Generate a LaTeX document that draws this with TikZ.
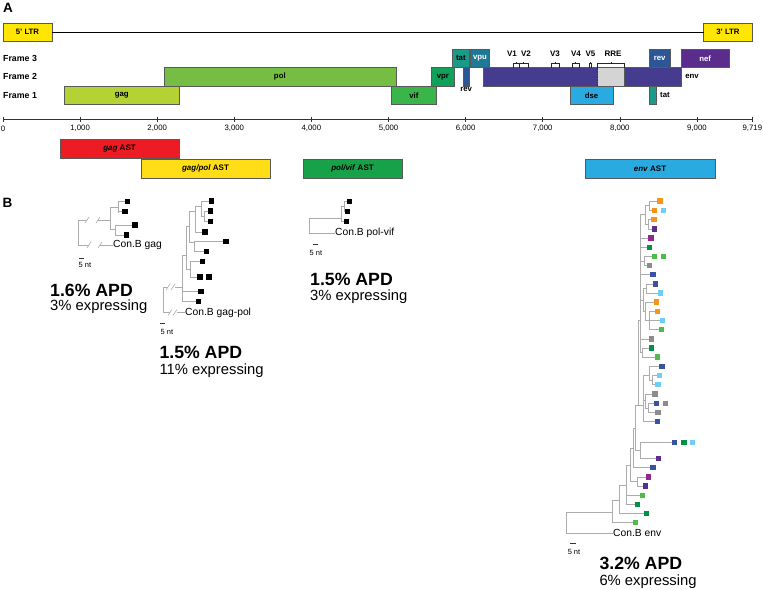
\documentclass[tikz,border=0pt]{standalone}
\usepackage{fontspec}
\setmainfont{Liberation Sans}
\definecolor{ltrc}{HTML}{FFE600}
\definecolor{gagc}{HTML}{B5D234}
\definecolor{polc}{HTML}{76BE43}
\definecolor{vifc}{HTML}{39B54A}
\definecolor{vprc}{HTML}{12A15B}
\definecolor{tatc}{HTML}{1B9A88}
\definecolor{vpuc}{HTML}{1E7896}
\definecolor{revc}{HTML}{2B5796}
\definecolor{envc}{HTML}{463C8F}
\definecolor{nefc}{HTML}{5A2D8C}
\definecolor{dsec}{HTML}{29AAE1}
\definecolor{rrec}{HTML}{D4D4D4}
\definecolor{astred}{HTML}{ED1C24}
\definecolor{astyellow}{HTML}{FFDE17}
\definecolor{astgreen}{HTML}{17A24A}
\definecolor{astblue}{HTML}{29ABE2}
\definecolor{eorange}{HTML}{F7941D}
\definecolor{elblue}{HTML}{6DCFF6}
\definecolor{epurple}{HTML}{5B2D90}
\definecolor{emag}{HTML}{92278F}
\definecolor{edkgreen}{HTML}{009245}
\definecolor{egreen}{HTML}{4DBD4A}
\definecolor{egrey}{HTML}{8C8C8C}
\definecolor{eblue}{HTML}{3953A4}
\tikzset{
  gene/.style={draw=gray!70!black, line width=0.5pt, inner sep=0pt, outer sep=0pt,
    anchor=north west, minimum height=18.5, font=\fontsize{7.8}{9}\selectfont\bfseries},
  ast/.style={gene, minimum height=19.7, font=\fontsize{8}{9}\selectfont\bfseries},
  framelab/.style={anchor=west, inner sep=0pt, font=\fontsize{8.8}{10}\selectfont\bfseries},
  genelab/.style={inner sep=0pt, font=\fontsize{7.8}{9}\selectfont\bfseries},
  vlab/.style={inner sep=0pt, font=\fontsize{8}{9}\selectfont\bfseries},
  bracket/.style={gray!30!black, line width=0.5pt},
  ticklab/.style={inner sep=0pt, font=\fontsize{7.8}{9}\selectfont},
  treeline/.style={gray!65, line width=0.6pt},
  leafsq/.style={inner sep=0pt, outer sep=0pt, minimum size=5.5, fill=black},
  conlab/.style={anchor=west, inner sep=0pt, font=\fontsize{10.3}{12}\selectfont},
  ntlab/.style={inner sep=0pt, font=\fontsize{7.5}{9}\selectfont},
  apd/.style={anchor=base west, inner sep=0pt, font=\fontsize{17.7}{20}\selectfont\bfseries},
  expr/.style={anchor=base west, inner sep=0pt, font=\fontsize{14.8}{17}\selectfont},
  panel/.style={inner sep=0pt, font=\fontsize{13.5}{15}\selectfont\bfseries}
}
% genome position (nt) to x
\newcommand{\nt}[1]{3+0.0771*#1}
% name, start, end, top, fill, label
\newcommand{\gene}[6]{\node[gene, fill=#5, minimum width={0.0771*(#3-#2)}] (#1) at ({\nt{#2}},#4) {#6};}
\begin{document}
\begin{tikzpicture}[x=1pt, y=-1pt]
    \useasboundingbox (0,0) rectangle (763,589);
    \node[panel] (pa) at (8,7.5) {A};
    \node[panel] (pb) at (7.5,202.5) {B};
    % LTRs
    \gene{ltr5}{1}{634}{23}{ltrc}{5' LTR}
    \gene{ltr3}{9086}{9719}{23}{ltrc}{3' LTR}
    \draw[line width=0.8pt] (ltr5.east) -- (ltr3.east -| ltr3.west);
    \node[framelab] (f3) at (3,58.3) {Frame 3};
    \node[framelab] (f2) at (3,76.8) {Frame 2};
    \node[framelab] (f1) at (3,95.3) {Frame 1};
    % frame 1 = 86, frame 2 = 67.5, frame 3 = 49
    \gene{gag}{790}{2292}{86}{gagc}{gag}
    \gene{pol}{2085}{5096}{67.5}{polc}{pol}
    \gene{vif}{5041}{5619}{86}{vifc}{vif}
    \gene{vpr}{5559}{5850}{67.5}{vprc}{vpr}
    \gene{tat1}{5831}{6045}{49}{tatc}{tat}
    \gene{rev1}{5970}{6045}{67.5}{revc}{}
    \gene{vpu}{6062}{6310}{49}{vpuc}{\color{white}vpu}
    \gene{env}{6225}{8795}{67.5}{envc}{}
    \gene{rre}{7710}{8061}{67.5}{rrec}{}
    \draw[densely dotted, gray!40!black, line width=0.6pt] (rre.north west) -- (rre.south west);
    \gene{dse}{7354}{7912}{86}{dsec}{dse}
    \gene{tat2}{8379}{8469}{86}{tatc}{}
    \gene{rev2}{8379}{8653}{49}{revc}{\color{white}rev}
    \gene{nef}{8797}{9417}{49}{nefc}{\color{white}nef}
    \node[genelab, anchor=north] (revlab) at ([yshift=-1.5pt]rev1.south) {rev};
    \node[genelab, anchor=west] (envlab) at ([xshift=4pt]env.east) {env};
    \node[genelab, anchor=west] (tatlab) at ([xshift=4pt]tat2.east) {tat};
    % variable loops and RRE
    \foreach \a/\b in {6615/6692, 6693/6812, 7110/7217, 7377/7478, 7602/7634, 7710/8061}
        \draw[bracket] ({\nt{\a}},67.5) -- ({\nt{\a}},63.5) -- ({\nt{\b}},63.5) -- ({\nt{\b}},67.5)
            ({\nt{(\a+\b)/2}},63.5) -- ({\nt{(\a+\b)/2}},61.5);
    \node[vlab] (v1) at (512,54) {V1};
    \node[vlab] (v2) at (526,54) {V2};
    \node[vlab] (v3) at (555,54) {V3};
    \node[vlab] (v4) at (576,54) {V4};
    \node[vlab] (v5) at (590.5,54) {V5};
    \node[vlab] (rrelab) at (613,54) {RRE};
    % axis
    \draw[gray!40!black, line width=0.6pt] ({\nt{0}},119) -- ({\nt{9719}},119);
    \foreach \n/\lab in {0/0, 1000/{1,000}, 2000/{2,000}, 3000/{3,000}, 4000/{4,000}, 5000/{5,000},
        6000/{6,000}, 7000/{7,000}, 8000/{8,000}, 9000/{9,000}, 9719/{9,719}}{
        \draw[gray!40!black, line width=0.6pt] ({\nt{\n}},116.5) -- ({\nt{\n}},121.5);
        \node[ticklab] at ({\nt{\n}},128.5) {\lab};
    }
    % AST regions
    \node[ast, fill=astred, minimum width=119] (gagast) at (60,139) {\textit{gag} AST};
    \node[ast, fill=astyellow, minimum width=129] (gpast) at (141,158.8) {\textit{gag/pol} AST};
    \node[ast, fill=astgreen, minimum width=99] (pvast) at (303,158.8) {\textit{pol/vif} AST};
    \node[ast, fill=astblue, minimum width=130] (envast) at (585,158.8) {\textit{env} AST};

    % gag tree
    \node[leafsq] (g1) at (127.3,201.7) {};
    \node[leafsq] (g2) at (125,211.7) {};
    \node[leafsq] (g3) at (135,225) {};
    \node[leafsq] (g4) at (126.7,235) {};
    \node[conlab] (cong) at (113,245) {Con.B gag};
    \draw[treeline] (78,220) -- (78,245) (78,220) -- (87,220) (98,220) -- (110,220)
        (78,245) -- (89,245) (100,245) -- (cong.west);
    \draw[treeline] (85,223) -- (89,217) (96,223) -- (100,217) (87,248) -- (91,242) (98,248) -- (102,242); % breaks
    \draw[treeline] (110,207) -- (110,229) (110,207) -- (118,207) (118,202) -- (118,213)
        (118,201.7) -- (g1) (118,211.7) -- (g2) (110,229) -- (115,229) (115,225) -- (115,235)
        (115,225) -- (g3) (115,235) -- (g4);
    \draw[gray!40!black, line width=0.6pt] (79,258) -- (84,258);
    \node[ntlab] (ntg) at (85,265) {5 nt};
    \node[apd] (apdg) at (50,296) {1.6\% APD};
    \node[expr] (exg) at (50,310.7) {3\% expressing};

    % gag-pol tree
    \foreach \nm/\x/\y in {p1/211.7/201, p2/210.7/211, p3/210.7/221.7, p4/205/232, p5/226/241.7,
        p6/206.7/251.7, p7/202.7/261.7, p8a/200/277, p8b/209/277, p9/201/291.7, p10/198.3/301.7}
        \node[leafsq] (\nm) at (\x,\y) {};
    \node[conlab] (congp) at (185,312.5) {Con.B gag-pol};
    \draw[treeline] (163,287) -- (163,312.5) (163,287) -- (168,287) (175,287) -- (182,287)
        (163,312.5) -- (170,312.5) (177,312.5) -- (congp.west);
    \draw[treeline] (166,290) -- (170,284) (171,290) -- (175,284) (168,315.5) -- (172,309.5) (173,315.5) -- (177,309.5); % breaks
    \draw[treeline] (182,255) -- (182,301.7) (182,255) -- (186,255) (182,291.7) -- (p9) (182,301.7) -- (p10)
        (186,226) -- (186,269) (186,226) -- (189,226) (186,269) -- (190,269)
        (190,261.7) -- (190,277) (190,261.7) -- (p7) (190,277) -- (p8a)
        (189,211) -- (189,242) (189,211) -- (195,211) (189,242) -- (194,242)
        (195,206) -- (195,232) (195,206) -- (201,206) (195,232) -- (p4)
        (201,201) -- (201,216) (201,201) -- (p1) (201,216) -- (204,216)
        (204,211) -- (204,221.7) (204,211) -- (p2) (204,221.7) -- (p3)
        (194,241.7) -- (194,251.7) (194,241.7) -- (p5) (194,251.7) -- (p6);
    \draw[gray!40!black, line width=0.6pt] (160,323) -- (164.5,323);
    \node[ntlab] (ntgp) at (167,331.5) {5 nt};
    \node[apd] (apdgp) at (159.3,358.3) {1.5\% APD};
    \node[expr] (exgp) at (159.3,374) {11\% expressing};

    % pol-vif tree
    \node[leafsq] (v1sq) at (349.3,201.7) {};
    \node[leafsq] (v2sq) at (347.3,211.7) {};
    \node[leafsq] (v3sq) at (346.7,221.7) {};
    \node[conlab] (conpv) at (335,233) {Con.B pol-vif};
    \draw[treeline] (309,218) -- (309,233) (309,218) -- (341.7,218) (309,233) -- (conpv.west)
        (341.7,206) -- (341.7,221.7) (341.7,206) -- (344,206) (341.7,221.7) -- (v3sq)
        (344,201.7) -- (344,211.7) (344,201.7) -- (v1sq) (344,211.7) -- (v2sq);
    \draw[gray!40!black, line width=0.6pt] (313,244.5) -- (318,244.5);
    \node[ntlab] (ntpv) at (316,252.5) {5 nt};
    \node[apd] (apdpv) at (310,285) {1.5\% APD};
    \node[expr] (expv) at (310,300.7) {3\% expressing};

    % env tree
    \foreach \nm/\x/\y/\c in {
        e1/660/201/eorange, e2a/654.7/210.3/eorange, e2b/663.7/210.3/elblue,
        e3/654/219.7/eorange, e4/654.7/229/epurple, e5/651/238/emag,
        e6/649.3/247.3/edkgreen, e7a/654.7/256.3/egreen, e7b/663.7/256.3/egreen,
        e8/649.3/265.3/egrey, e9/653/274.7/eblue, e10/655.3/284/eblue,
        e11/660.7/293/elblue, e12/656.7/302/eorange, e13/657.3/311.3/eorange,
        e14/662.7/320.3/elblue, e15/661.3/329.7/egreen, e16/651.3/339/egrey,
        e17/651.3/348/edkgreen, e18/657.3/357/egreen, e19/662/366.3/eblue,
        e20/659.3/375.7/elblue, e21/658/384.3/elblue, e22/655/394/egrey,
        e23a/656.7/403.3/eblue, e23b/665.7/403.3/egrey, e24/658/412.3/egrey,
        e25/657.3/421.7/eblue, e26a/674.7/442.3/eblue, e26b/684/442.3/edkgreen,
        e26c/692.7/442.3/elblue, e27/658.7/458.3/epurple, e28/653/467.7/eblue,
        e29/648.7/477/emag, e30/645.3/486/epurple, e31/642.3/495.3/egreen,
        e32/637.3/504.3/edkgreen, e33/646.7/513.7/edkgreen, e34/635.3/522.7/egreen}
        \node[leafsq, fill=\c] (\nm) at (\x,\y) {};
    \node[conlab] (cone) at (613,533) {Con.B env};
    \draw[treeline] (566,512) -- (566,533) (566,533) -- (cone.west) (566,512) -- (612,512)
        (612,500) -- (612,522.7) (612,500) -- (619,500) (612,522.7) -- (e34)
        (619,485) -- (619,513.7) (619,485) -- (626,485) (619,513.7) -- (e33)
        (626,465) -- (626,504.3) (626,465) -- (630,465) (626,495.3) -- (e31) (626,504.3) -- (e32)
        (630,448) -- (630,481.5) (630,448) -- (633,448) (630,481.5) -- (637,481.5)
        (637,477) -- (637,486) (637,477) -- (e29) (637,486) -- (e30)
        (633,428) -- (633,467.7) (633,428) -- (635,428) (633,467.7) -- (e28)
        (635,405) -- (635,450) (635,405) -- (638,405) (635,450) -- (640,450)
        (640,442.3) -- (640,458.3) (640,442.3) -- (e26a) (640,458.3) -- (e27)
        (638,320) -- (638,405) (638,320) -- (640,320) (638,405) -- (643,405);
    % lower cluster
    \draw[treeline] (643,375) -- (643,421.7) (643,375) -- (649,375) (643,400) -- (645,400) (643,421.7) -- (e25)
        (649,366.3) -- (649,380) (649,366.3) -- (e19) (649,380) -- (652,380)
        (652,375.7) -- (652,384.3) (652,375.7) -- (e20) (652,384.3) -- (e21)
        (645,394) -- (645,408) (645,394) -- (e22) (645,408) -- (648,408)
        (648,403.3) -- (648,412.3) (648,403.3) -- (e23a) (648,412.3) -- (e24);
    % upper cluster
    \draw[treeline] (640,214) -- (640,352.5) (640,214) -- (645,214) (640,238) -- (e5) (640,247.3) -- (e6)
        (640,260.8) -- (644,260.8) (640,274.7) -- (e9) (640,300) -- (643,300) (640,339) -- (e16)
        (640,352.5) -- (642,352.5)
        (645,205.5) -- (645,224.3) (645,205.5) -- (649,205.5) (645,224.3) -- (648,224.3)
        (649,201) -- (649,210.3) (649,201) -- (e1) (649,210.3) -- (e2a)
        (648,219.7) -- (648,229) (648,219.7) -- (e3) (648,229) -- (e4)
        (644,256.3) -- (644,265.3) (644,256.3) -- (e7a) (644,265.3) -- (e8)
        (643,288.5) -- (643,311) (643,288.5) -- (646,288.5) (643,311) -- (645,311)
        (646,284) -- (646,293) (646,284) -- (e10) (646,293) -- (e11)
        (645,302) -- (645,320.3) (645,302) -- (e12) (645,320.3) -- (649,320.3)
        (649,311.3) -- (649,329.7) (649,311.3) -- (e13) (649,320.3) -- (e14) (649,329.7) -- (e15)
        (642,348) -- (642,357) (642,348) -- (e17) (642,357) -- (e18);
    \draw[gray!40!black, line width=0.6pt] (570,543.3) -- (576,543.3);
    \node[ntlab] (nte) at (574,551.7) {5 nt};
    \node[apd] (apde) at (599.3,569) {3.2\% APD};
    \node[expr] (exe) at (599.3,585) {6\% expressing};
\end{tikzpicture}
\end{document}
